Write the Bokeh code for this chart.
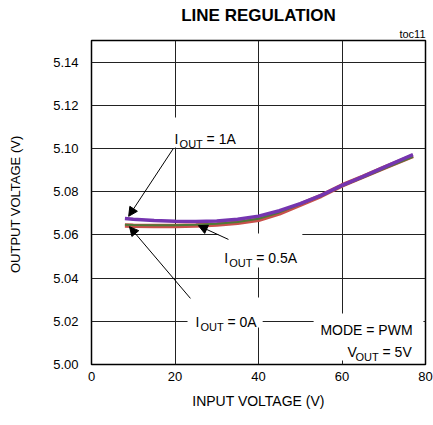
from bokeh.plotting import figure
from bokeh.models import (Range1d, FixedTicker, PrintfTickFormatter, Label,
                          Arrow, NormalHead, ColumnDataSource, Title)
from bokeh.embed import file_html
from bokeh.resources import INLINE

# ---- data ----
vin = [8, 10, 15, 20, 25, 30, 35, 40, 45, 50, 55, 60, 65, 70, 77]
vout_1a = [5.0676, 5.0673, 5.0667, 5.0663, 5.0662, 5.0664, 5.0672, 5.0687,
           5.0712, 5.0745, 5.0783, 5.0829, 5.0870, 5.0913, 5.0972]
vout_05a = [5.0643, 5.0642, 5.0641, 5.0641, 5.0643, 5.0648, 5.0656, 5.0670,
            5.0700, 5.0740, 5.0781, 5.0829, 5.0869, 5.0910, 5.0966]
vout_0a = [5.0647, 5.0646, 5.0645, 5.0645, 5.0647, 5.0652, 5.0660, 5.0675,
           5.0704, 5.0742, 5.0780, 5.0826, 5.0865, 5.0906, 5.0962]
x_ticks = [0, 20, 40, 60, 80]
y_ticks = [5.00, 5.02, 5.04, 5.06, 5.08, 5.10, 5.12, 5.14]

FONT = "Liberation Sans"

p = figure(width=433, height=425, output_backend="svg", toolbar_location=None,
           x_range=Range1d(0, 80), y_range=Range1d(5.00, 5.15),
           min_border_left=91, min_border_right=8, min_border_top=40,
           min_border_bottom=61)
p.title = None
p.background_fill_color = "white"
p.border_fill_color = "white"
p.outline_line_color = "black"
p.outline_line_width = 1.5

for ax in (p.xaxis, p.yaxis):
    ax.axis_line_color = None
    ax.major_tick_line_color = None
    ax.minor_tick_line_color = None
    ax.major_tick_out = 0
    ax.major_tick_in = 0
    ax.minor_tick_out = 0
    ax.minor_tick_in = 0
    ax.major_label_text_font = FONT
    ax.major_label_text_font_size = "13px"
    ax.major_label_text_color = "black"
    ax.axis_label_text_font = FONT
    ax.axis_label_text_font_style = "normal"
    ax.axis_label_text_color = "black"

p.xaxis.axis_label_text_font_size = "14px"
p.yaxis.axis_label_text_font_size = "13px"
p.xaxis.ticker = FixedTicker(ticks=x_ticks)
p.yaxis.ticker = FixedTicker(ticks=y_ticks)
p.yaxis.formatter = PrintfTickFormatter(format="%.2f")
p.xaxis.axis_label = "INPUT VOLTAGE (V)"
p.yaxis.axis_label = "OUTPUT  VOLTAGE (V)"
p.xaxis.major_label_standoff = 7
p.xaxis.axis_label_standoff = 9
p.yaxis.major_label_standoff = 13
p.yaxis.axis_label_standoff = 27

p.xgrid.grid_line_color = "#222222"
p.ygrid.grid_line_color = "#222222"
p.xgrid.grid_line_width = 1
p.ygrid.grid_line_width = 1
p.xgrid.ticker = FixedTicker(ticks=[20, 40, 60])
p.ygrid.ticker = FixedTicker(ticks=y_ticks[1:])

# white label backgrounds that break the grid
p.quad(left=[18.5, 30.4, 23.0, 53.2], right=[36.0, 50.5, 41.0, 79.5],
       bottom=[5.1005, 5.0449, 5.0171, 5.0019],
       top=[5.1144, 5.0606, 5.0310, 5.0236],
       fill_color="white", line_color=None)

src = ColumnDataSource(dict(x=vin, a=vout_1a, b=vout_05a, c=vout_0a))
p.line("x", "b", source=src, line_color="#c9504b", line_width=4.5)
p.line("x", "c", source=src, line_color="#4e7a38", line_width=2)
p.line("x", "a", source=src, line_color="#7535b0", line_width=3.5)

# arrows
for (xs, ys, xe, ye) in [(19.6, 5.1000, 8.9, 5.0686),
                         (23.7, 5.0306, 9.1, 5.0638),
                         (32.8, 5.0579, 25.6, 5.0643)]:
    p.add_layout(Arrow(end=NormalHead(size=9, fill_color="black",
                                      line_color="black"),
                       x_start=xs, y_start=ys, x_end=xe, y_end=ye,
                       line_color="black", line_width=1))


def lab(x, y, text, size="14px", xo=0, yo=0, align="left"):
    p.add_layout(Label(x=x, y=y, text=text, x_offset=xo, y_offset=yo,
                       text_font=FONT, text_font_size=size,
                       text_align=align, text_baseline="alphabetic",
                       text_color="black"))


def iout(x, y, rest):
    lab(x, y, "I")
    lab(x, y, "OUT", size="11px", xo=5, yo=-5)
    lab(x, y, rest, xo=32)


iout(19.9, 5.1042, "= 1A")
iout(31.8, 5.0495, "= 0.5A")
iout(24.9, 5.0199, "= 0A")
lab(76.9, 5.0162, "MODE = PWM", align="right")
lab(76.7, 5.0060, "= 5V", align="right")
lab(76.7, 5.0060, "OUT", size="11px", xo=-33, yo=-5, align="right")
lab(76.7, 5.0060, "V", xo=-55, align="right")

# tag and title (first added sits closest to the frame)
p.add_layout(Title(text="toc11", align="right", text_font=FONT,
                   text_font_size="11px", text_font_style="normal",
                   text_color="black", standoff=2), "above")
p.add_layout(Title(text="LINE REGULATION", align="center", text_font=FONT,
                   text_font_size="17px", text_font_style="bold",
                   text_color="black", standoff=0), "above")

open("out.html", "w").write(file_html(p, INLINE))
